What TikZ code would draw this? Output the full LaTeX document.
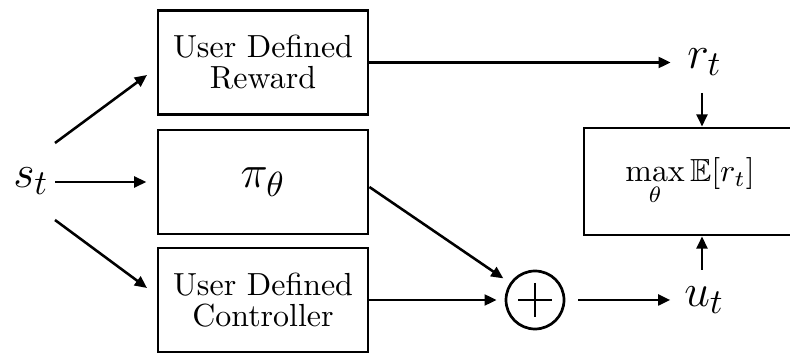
\documentclass[tikz,border=0pt]{standalone}
\usepackage{amsmath, amssymb}
\usetikzlibrary{calc, positioning, arrows.meta}

\begin{document}
\begin{tikzpicture}[x=0.011cm, y=-0.011cm, >={Triangle[length=3.8pt, width=3.4pt]}, line width=0.8pt,
    blk/.style={draw, line width=0.9pt, minimum width=2.31cm, minimum height=1.15cm,
        inner sep=0pt, align=center, font=\fontsize{10}{9.7}\selectfont},
    sig/.style={inner sep=0pt, font=\fontsize{15.5}{18}\selectfont}]
    \clip (0,0) rectangle (790,353);

    % 方框
    \node[blk] (rew) at (263,62.5) {User Defined\\Reward};
    \node[blk, minimum height=1.144cm] (pol) at (263,182) {\fontsize{15.5}{18}\selectfont$\pi_\theta$};
    \node[blk, minimum height=1.144cm] (ctl) at (263,300) {User Defined\\Controller};
    \node[blk, minimum width=2.332cm, minimum height=1.177cm] (obj) at (690,181.5)
        {$\displaystyle\max_{\theta}\mathbb{E}[r_t]$};

    % 信号
    \node[sig, anchor=base west] (st) at (12,188) {$s_t$};
    \node[sig, anchor=base west] (rt) at (686,69) {$r_t$};
    \node[sig, anchor=base west] (ut) at (683,307) {$u_t$};

    % 求和
    \node[draw, circle, minimum size=0.638cm, inner sep=0pt, line width=0.85pt] (sum) at (535,300) {};
    \draw[line width=0.5pt] ($(sum)+(-17,0)$) -- ($(sum)+(17,0)$);
    \draw[line width=0.5pt] ($(sum)+(0,-17)$) -- ($(sum)+(0,17)$);

    % s_t 分支
    \coordinate (st1) at (55,143);
    \coordinate (rw1) at (147,75);
    \coordinate (st3) at (55,220);
    \coordinate (ct1) at (147,288);
    \draw[->] (st1) -- (rw1);
    \draw[->, shorten <=1.6pt, shorten >=3.2pt] (st.east |- pol) -- (pol.west);
    \draw[->] (st3) -- (ct1);

    % 奖励与控制
    \draw[->, shorten >=4.8pt] (rew.east) -- (rew.east -| rt.west);
    \draw[->] ($(pol.east)+(0,5)$) -- (sum) [shorten >=2.5pt];
    \draw[->, shorten >=2.5pt] (ctl.east) -- (sum.west);
    \draw[->, shorten <=4pt, shorten >=4pt] (sum.east) -- (sum.east -| ut.west);

    % 目标
    \coordinate (rt1) at (702,93);
    \coordinate (ut1) at (702,270);
    \draw[->] (rt1) -- (rt1 |- obj.north);
    \draw[->] (ut1) -- (ut1 |- obj.south);
\end{tikzpicture}
\end{document}
